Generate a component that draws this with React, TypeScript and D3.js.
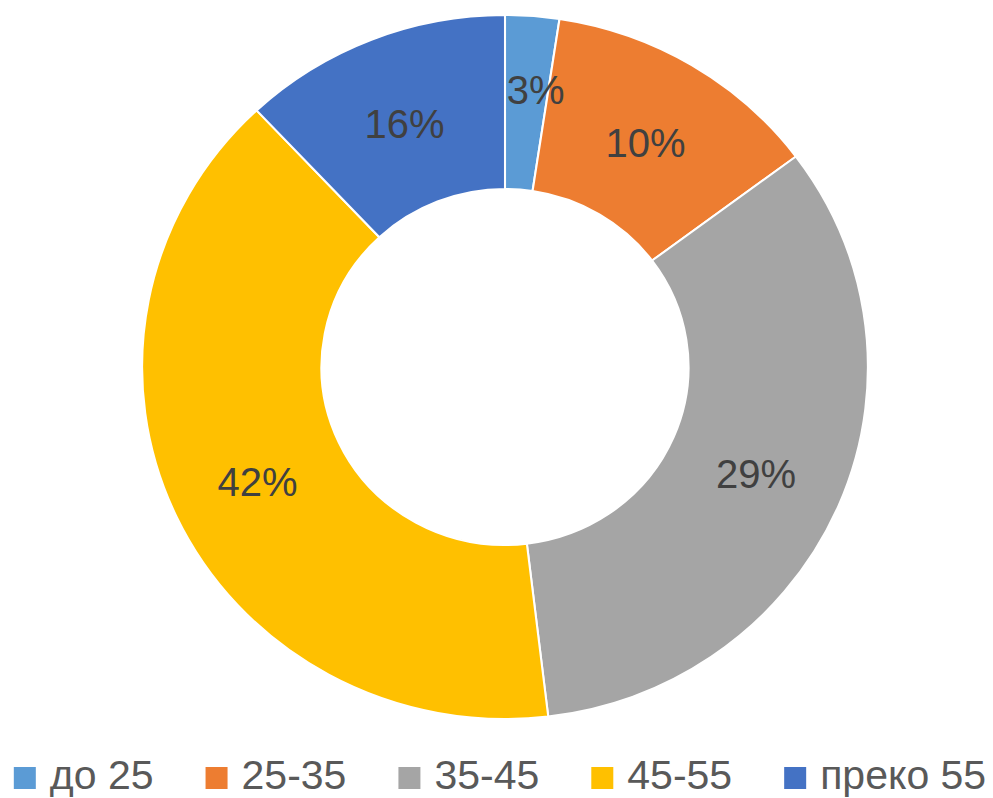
import React, { useLayoutEffect, useRef, useState } from 'react'
import * as d3 from 'd3'

const CATEGORIES = ['до 25', '25-35', '35-45', '45-55', 'преко 55']
// slice sizes as they are drawn in the picture (percent of the ring)
const SHARES = [2.4, 12.4, 33.3, 39.9, 12.0]
// printed labels
const LABELS = ['3%', '10%', '29%', '42%', '16%']
const COLORS = ['#5B9BD5', '#ED7D31', '#A5A5A5', '#FFC000', '#4472C4']

const W = 993
const H = 798
const FONT = '"Liberation Sans", Arial, sans-serif'

export default function App() {
  const legendRef = useRef<SVGGElement>(null)
  const [widths, setWidths] = useState<number[]>(CATEGORIES.map(() => 100))

  useLayoutEffect(() => {
    const g = legendRef.current
    if (!g) return
    const texts = Array.from(g.querySelectorAll('text')) as SVGTextElement[]
    const w = texts.map((t) => t.getComputedTextLength())
    if (w.some((v, i) => Math.abs(v - widths[i]) > 0.5)) setWidths(w)
  }, [widths])

  const cx = 505
  const cy = 367
  const outerR = 352
  const innerR = 178
  const sx = 1.031 // ring is slightly wider than tall

  const pie = d3.pie<number>().sort(null).value((d) => d)
  const arcs = pie(SHARES)
  const arc = d3.arc<d3.PieArcDatum<number>>().innerRadius(innerR).outerRadius(outerR)

  // legend layout
  const box = 22
  const boxGap = 14
  const itemGap = 52
  const itemW = widths.map((w) => box + boxGap + w)
  const total = d3.sum(itemW) + itemGap * (itemW.length - 1)
  let x0 = 500 - total / 2
  const legendX = itemW.map((w) => {
    const x = x0
    x0 += w + itemGap
    return x
  })

  return (
    <div style={{ position: 'absolute', left: 0, top: 0 }}>
      <svg width={W} height={H} style={{ display: 'block', background: '#fff' }}>
        <g transform={`translate(${cx},${cy}) scale(${sx},1)`}>
          {arcs.map((a, i) => (
            <path key={i} d={arc(a) || ''} fill={COLORS[i]} stroke="#fff" strokeWidth={2} />
          ))}
        </g>
        {arcs.map((a, i) => {
          const [lx, ly] = arc.centroid(a)
          return (
            <text
              key={i}
              x={cx + lx * sx + (i === 0 ? 10 : 0)}
              y={cy + ly + (i === 0 ? -13 : 3)}
              textAnchor="middle"
              dominantBaseline="central"
              fontFamily={FONT}
              fontSize={40}
              fill="#404040"
            >
              {LABELS[i]}
            </text>
          )
        })}
        <g ref={legendRef}>
          {CATEGORIES.map((c, i) => (
            <g key={c} transform={`translate(${legendX[i]},0)`}>
              <rect x={0} y={767} width={box} height={box} fill={COLORS[i]} />
              <text x={box + boxGap} y={789} fontFamily={FONT} fontSize={41} fill="#595959">
                {c}
              </text>
            </g>
          ))}
        </g>
      </svg>
    </div>
  )
}
